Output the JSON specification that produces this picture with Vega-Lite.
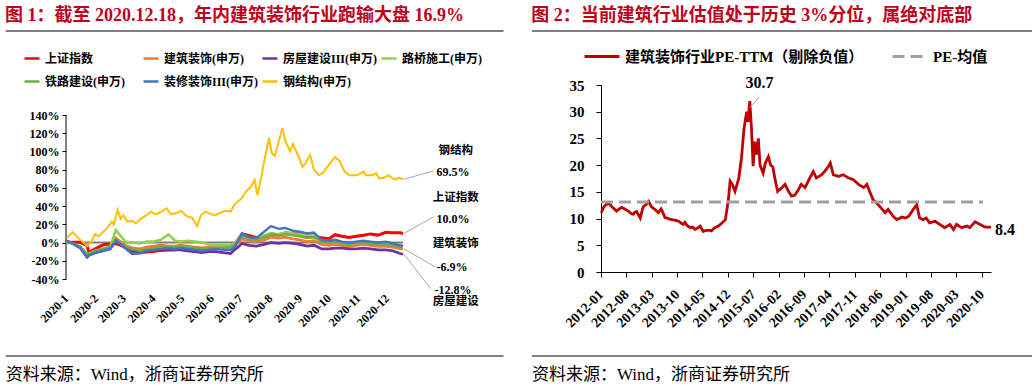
{
  "$schema": "https://vega.github.io/schema/vega-lite/v6.json",
  "padding": {"left": 5, "top": 7, "right": 0, "bottom": 0},
  "background": "white",
  "config": {
    "view": {"stroke": null},
    "font": "Liberation Serif, Noto Sans CJK SC",
    "axis": {"labelFont": "Liberation Serif, Noto Sans CJK SC", "labelFontWeight": "bold", "labelColor": "black", "domainColor": "black", "tickColor": "black", "grid": false},
    "legend": {"labelFont": "Liberation Serif, Noto Sans CJK SC", "labelFontWeight": "bold", "labelColor": "black"},
    "title": {"font": "Liberation Serif, Noto Sans CJK SC"},
    "text": {"font": "Liberation Serif, Noto Sans CJK SC"}
  },
  "resolve": {"scale": {"color": "independent", "strokeDash": "independent", "strokeWidth": "independent"}, "legend": {"color": "independent", "strokeDash": "independent", "strokeWidth": "independent"}},
  "datasets": {
    "cluster": [
      {"d":"2020-01-01","上证指数":0,"建筑装饰(申万)":1.5,"房屋建设III(申万)":2,"路桥施工(申万)":1,"铁路建设(申万)":1,"装修装饰III(申万)":2},
      {"d":"2020-01-08","上证指数":0.2,"建筑装饰(申万)":-1,"房屋建设III(申万)":-1,"路桥施工(申万)":-1,"铁路建设(申万)":-1,"装修装饰III(申万)":-1},
      {"d":"2020-01-16","上证指数":0.2,"建筑装饰(申万)":-5,"房屋建设III(申万)":-6,"路桥施工(申万)":-5,"铁路建设(申万)":-5,"装修装饰III(申万)":-6},
      {"d":"2020-01-23","上证指数":-3.5,"建筑装饰(申万)":-14,"房屋建设III(申万)":-16,"路桥施工(申万)":-13,"铁路建设(申万)":-13,"装修装饰III(申万)":-16},
      {"d":"2020-01-25","上证指数":-11,"建筑装饰(申万)":-12,"房屋建设III(申万)":-14,"路桥施工(申万)":-12,"铁路建设(申万)":-12,"装修装饰III(申万)":-14},
      {"d":"2020-02-01","上证指数":-6.5,"建筑装饰(申万)":-9,"房屋建设III(申万)":-11,"路桥施工(申万)":-9,"铁路建设(申万)":-9,"装修装饰III(申万)":-11},
      {"d":"2020-02-09","上证指数":-2.5,"建筑装饰(申万)":-7,"房屋建设III(申万)":-9,"路桥施工(申万)":-7,"铁路建设(申万)":-7,"装修装饰III(申万)":-9},
      {"d":"2020-02-16","上证指数":-1.7,"建筑装饰(申万)":-5,"房屋建设III(申万)":-7,"路桥施工(申万)":-5,"铁路建设(申万)":-5,"装修装饰III(申万)":-7},
      {"d":"2020-02-22","上证指数":-1,"建筑装饰(申万)":5,"房屋建设III(申万)":1.5,"路桥施工(申万)":13.5,"铁路建设(申万)":3,"装修装饰III(申万)":2},
      {"d":"2020-03-03","上证指数":-4.6,"建筑装饰(申万)":-3,"房屋建设III(申万)":-6,"路桥施工(申万)":1,"铁路建设(申万)":-4,"装修装饰III(申万)":-6},
      {"d":"2020-03-10","上证指数":-9.6,"建筑装饰(申万)":-6,"房屋建设III(申万)":-12,"路桥施工(申万)":0,"铁路建设(申万)":-7,"装修装饰III(申万)":-12},
      {"d":"2020-03-18","上证指数":-11,"建筑装饰(申万)":-7,"房屋建设III(申万)":-11,"路桥施工(申万)":-1,"铁路建设(申万)":-9,"装修装饰III(申万)":-12},
      {"d":"2020-03-25","上证指数":-10.5,"建筑装饰(申万)":-5,"房屋建设III(申万)":-9,"路桥施工(申万)":1,"铁路建设(申万)":-7,"装修装饰III(申万)":-9},
      {"d":"2020-04-02","上证指数":-9.6,"建筑装饰(申万)":-4,"房屋建设III(申万)":-8,"路桥施工(申万)":1,"铁路建设(申万)":-6,"装修装饰III(申万)":-8},
      {"d":"2020-04-09","上证指数":-8.6,"建筑装饰(申万)":-3,"房屋建设III(申万)":-7,"路桥施工(申万)":3,"铁路建设(申万)":-4,"装修装饰III(申万)":-7},
      {"d":"2020-04-17","上证指数":-8.3,"建筑装饰(申万)":-4,"房屋建设III(申万)":-8,"路桥施工(申万)":9,"铁路建设(申万)":-5,"装修装饰III(申万)":-6},
      {"d":"2020-04-24","上证指数":-8,"建筑装饰(申万)":-4,"房屋建设III(申万)":-8,"路桥施工(申万)":2,"铁路建设(申万)":-5,"装修装饰III(申万)":-7},
      {"d":"2020-04-29","上证指数":-6.8,"建筑装饰(申万)":-3,"房屋建设III(申万)":-8,"路桥施工(申万)":1,"铁路建设(申万)":-4,"装修装饰III(申万)":-6},
      {"d":"2020-05-07","上证指数":-7.6,"建筑装饰(申万)":-4,"房屋建设III(申万)":-9,"路桥施工(申万)":2,"铁路建设(申万)":-5,"装修装饰III(申万)":-7},
      {"d":"2020-05-14","上证指数":-7.5,"建筑装饰(申万)":-5,"房屋建设III(申万)":-10,"路桥施工(申万)":1,"铁路建设(申万)":-6,"装修装饰III(申万)":-8},
      {"d":"2020-05-22","上证指数":-8.5,"建筑装饰(申万)":-6,"房屋建设III(申万)":-11,"路桥施工(申万)":0,"铁路建设(申万)":-7,"装修装饰III(申万)":-9},
      {"d":"2020-05-29","上证指数":-5.7,"建筑装饰(申万)":-5,"房屋建设III(申万)":-10,"路桥施工(申万)":-2,"铁路建设(申万)":-6,"装修装饰III(申万)":-8},
      {"d":"2020-06-06","上证指数":-5.4,"建筑装饰(申万)":-5,"房屋建设III(申万)":-10,"路桥施工(申万)":-3,"铁路建设(申万)":-6,"装修装饰III(申万)":-7},
      {"d":"2020-06-13","上证指数":-4.6,"建筑装饰(申万)":-5,"房屋建设III(申万)":-11,"路桥施工(申万)":-3,"铁路建设(申万)":-6,"装修装饰III(申万)":-8},
      {"d":"2020-06-21","上证指数":-3.4,"建筑装饰(申万)":-5,"房屋建设III(申万)":-12,"路桥施工(申万)":-3,"铁路建设(申万)":-5,"装修装饰III(申万)":-8},
      {"d":"2020-06-25","上证指数":-1.9,"建筑装饰(申万)":-3,"房屋建设III(申万)":-8,"路桥施工(申万)":-1,"铁路建设(申万)":-3,"装修装饰III(申万)":-5},
      {"d":"2020-07-03","上证指数":9.4,"建筑装饰(申万)":4,"房屋建设III(申万)":-1,"路桥施工(申万)":8,"铁路建设(申万)":7,"装修装饰III(申万)":10},
      {"d":"2020-07-10","上证指数":7.8,"建筑装饰(申万)":2,"房屋建设III(申万)":-3,"路桥施工(申万)":5,"铁路建设(申万)":4,"装修装饰III(申万)":6},
      {"d":"2020-07-18","上证指数":5.4,"建筑装饰(申万)":1,"房屋建设III(申万)":-4,"路桥施工(申万)":4,"铁路建设(申万)":3,"装修装饰III(申万)":5},
      {"d":"2020-07-26","上证指数":6.3,"建筑装饰(申万)":3,"房屋建设III(申万)":-2,"路桥施工(申万)":8,"铁路建设(申万)":6,"装修装饰III(申万)":12},
      {"d":"2020-08-02","上证指数":9.6,"建筑装饰(申万)":6,"房屋建设III(申万)":0,"路桥施工(申万)":10,"铁路建设(申万)":9,"装修装饰III(申万)":18},
      {"d":"2020-08-10","上证指数":8.4,"建筑装饰(申万)":5,"房屋建设III(申万)":-1,"路桥施工(申万)":9,"铁路建设(申万)":8,"装修装饰III(申万)":15},
      {"d":"2020-08-17","上证指数":10.6,"建筑装饰(申万)":6,"房屋建设III(申万)":0,"路桥施工(申万)":11,"铁路建设(申万)":9,"装修装饰III(申万)":16},
      {"d":"2020-08-25","上证指数":9.7,"建筑装饰(申万)":4,"房屋建设III(申万)":-1,"路桥施工(申万)":10,"铁路建设(申万)":8,"装修装饰III(申万)":13},
      {"d":"2020-09-01","上证指数":9.6,"建筑装饰(申万)":3,"房屋建设III(申万)":-2,"路桥施工(申万)":9,"铁路建设(申万)":7,"装修装饰III(申万)":12},
      {"d":"2020-09-09","上证指数":5.5,"建筑装饰(申万)":1,"房屋建设III(申万)":-4,"路桥施工(申万)":8,"铁路建设(申万)":5,"装修装饰III(申万)":10},
      {"d":"2020-09-16","上证指数":6.7,"建筑装饰(申万)":2,"房屋建设III(申万)":-3,"路桥施工(申万)":8,"铁路建设(申万)":6,"装修装饰III(申万)":11},
      {"d":"2020-09-24","上证指数":5.4,"建筑装饰(申万)":-2,"房屋建设III(申万)":-7,"路桥施工(申万)":2,"铁路建设(申万)":1,"装修装饰III(申万)":3},
      {"d":"2020-10-02","上证指数":4.3,"建筑装饰(申万)":-3,"房屋建设III(申万)":-7,"路桥施工(申万)":1,"铁路建设(申万)":0,"装修装饰III(申万)":2},
      {"d":"2020-10-08","上证指数":8.6,"建筑装饰(申万)":-2,"房屋建设III(申万)":-6,"路桥施工(申万)":2,"铁路建设(申万)":1,"装修装饰III(申万)":3},
      {"d":"2020-10-15","上证指数":6.9,"建筑装饰(申万)":-3,"房屋建设III(申万)":-6,"路桥施工(申万)":0,"铁路建设(申万)":-1,"装修装饰III(申万)":1},
      {"d":"2020-10-23","上证指数":5.5,"建筑装饰(申万)":-4,"房屋建设III(申万)":-7,"路桥施工(申万)":-1,"铁路建设(申万)":-2,"装修装饰III(申万)":0},
      {"d":"2020-10-30","上证指数":7,"建筑装饰(申万)":-3,"房屋建设III(申万)":-7,"路桥施工(申万)":0,"铁路建设(申万)":-1,"装修装饰III(申万)":1},
      {"d":"2020-11-07","上证指数":8.1,"建筑装饰(申万)":-2,"房屋建设III(申万)":-6,"路桥施工(申万)":1,"铁路建设(申万)":0,"装修装饰III(申万)":2},
      {"d":"2020-11-14","上证指数":9.5,"建筑装饰(申万)":-3,"房屋建设III(申万)":-7,"路桥施工(申万)":0,"铁路建设(申万)":-1,"装修装饰III(申万)":1},
      {"d":"2020-11-22","上证指数":8.2,"建筑装饰(申万)":-4,"房屋建设III(申万)":-8,"路桥施工(申万)":-1,"铁路建设(申万)":-2,"装修装饰III(申万)":0},
      {"d":"2020-11-30","上证指数":11.3,"建筑装饰(申万)":-4,"房屋建设III(申万)":-8,"路桥施工(申万)":-1,"铁路建设(申万)":-2,"装修装饰III(申万)":1},
      {"d":"2020-12-07","上证指数":10.7,"建筑装饰(申万)":-5,"房屋建设III(申万)":-9,"路桥施工(申万)":-2,"铁路建设(申万)":-3,"装修装饰III(申万)":-1},
      {"d":"2020-12-15","上证指数":10.7,"建筑装饰(申万)":-6.5,"房屋建设III(申万)":-12,"路桥施工(申万)":-3.5,"铁路建设(申万)":-4.5,"装修装饰III(申万)":-3},
      {"d":"2020-12-18","上证指数":10,"建筑装饰(申万)":-6.9,"房屋建设III(申万)":-12.8,"路桥施工(申万)":-4,"铁路建设(申万)":-5,"装修装饰III(申万)":-3.5}
    ],
    "steel": [
      {"d":"2020-01-02","v":5},{"d":"2020-01-08","v":11.5},{"d":"2020-01-15","v":4},{"d":"2020-01-23","v":-4},
      {"d":"2020-01-27","v":0},{"d":"2020-01-31","v":9},{"d":"2020-02-04","v":7},{"d":"2020-02-10","v":13},
      {"d":"2020-02-14","v":17},{"d":"2020-02-18","v":23},{"d":"2020-02-20","v":20},{"d":"2020-02-24","v":36},
      {"d":"2020-02-27","v":26},{"d":"2020-03-01","v":30},{"d":"2020-03-05","v":23},{"d":"2020-03-10","v":24},
      {"d":"2020-03-14","v":21},{"d":"2020-03-19","v":26},{"d":"2020-03-25","v":30},{"d":"2020-03-30","v":34},
      {"d":"2020-04-03","v":31},{"d":"2020-04-08","v":33},{"d":"2020-04-15","v":37.5},{"d":"2020-04-20","v":31},
      {"d":"2020-04-27","v":33},{"d":"2020-04-30","v":35},{"d":"2020-05-06","v":29},{"d":"2020-05-12","v":27},
      {"d":"2020-05-17","v":18},{"d":"2020-05-21","v":30},{"d":"2020-05-26","v":34},{"d":"2020-06-01","v":31},
      {"d":"2020-06-05","v":30},{"d":"2020-06-11","v":33},{"d":"2020-06-15","v":35},{"d":"2020-06-21","v":34},
      {"d":"2020-06-25","v":42},{"d":"2020-07-02","v":48},{"d":"2020-07-07","v":56},{"d":"2020-07-12","v":61},
      {"d":"2020-07-16","v":69},{"d":"2020-07-19","v":52},{"d":"2020-07-23","v":72},{"d":"2020-07-26","v":89},
      {"d":"2020-07-31","v":115},{"d":"2020-08-03","v":98},{"d":"2020-08-06","v":95},{"d":"2020-08-10","v":110},
      {"d":"2020-08-14","v":125.6},{"d":"2020-08-17","v":112},{"d":"2020-08-22","v":100},{"d":"2020-08-25","v":108},
      {"d":"2020-09-01","v":92},{"d":"2020-09-04","v":83},{"d":"2020-09-07","v":87},{"d":"2020-09-12","v":96},
      {"d":"2020-09-16","v":80},{"d":"2020-09-21","v":74},{"d":"2020-09-25","v":76},{"d":"2020-09-30","v":83},
      {"d":"2020-10-08","v":94},{"d":"2020-10-13","v":89},{"d":"2020-10-18","v":78},{"d":"2020-10-23","v":74},
      {"d":"2020-10-31","v":74},{"d":"2020-11-07","v":78},{"d":"2020-11-09","v":74},{"d":"2020-11-16","v":74},
      {"d":"2020-11-20","v":76},{"d":"2020-11-23","v":70.5},{"d":"2020-11-28","v":71},{"d":"2020-12-03","v":74},
      {"d":"2020-12-09","v":69},{"d":"2020-12-14","v":71},{"d":"2020-12-18","v":69.5}
    ],
    "pe": [
      {"d":"2012-01-04","v":11.1,"s":"PE"},{"d":"2012-01-20","v":12.0,"s":"PE"},{"d":"2012-02-03","v":12.4,"s":"PE"},{"d":"2012-03-03","v":12.9,"s":"PE"},
      {"d":"2012-03-21","v":12.5,"s":"PE"},{"d":"2012-04-12","v":12.0,"s":"PE"},{"d":"2012-05-10","v":11.4,"s":"PE"},{"d":"2012-06-01","v":11.8,"s":"PE"},
      {"d":"2012-06-23","v":12.1,"s":"PE"},{"d":"2012-07-18","v":11.8,"s":"PE"},{"d":"2012-08-17","v":11.4,"s":"PE"},{"d":"2012-09-08","v":11.0,"s":"PE"},
      {"d":"2012-09-27","v":10.8,"s":"PE"},{"d":"2012-10-12","v":11.2,"s":"PE"},{"d":"2012-10-27","v":11.3,"s":"PE"},{"d":"2012-11-25","v":10.1,"s":"PE"},
      {"d":"2012-12-20","v":12.2,"s":"PE"},{"d":"2013-01-12","v":12.6,"s":"PE"},{"d":"2013-02-03","v":13.2,"s":"PE"},{"d":"2013-02-28","v":12.2,"s":"PE"},
      {"d":"2013-03-29","v":11.7,"s":"PE"},{"d":"2013-04-27","v":11.1,"s":"PE"},{"d":"2013-05-19","v":11.8,"s":"PE"},{"d":"2013-06-06","v":11.0,"s":"PE"},
      {"d":"2013-06-21","v":10.2,"s":"PE"},{"d":"2013-07-20","v":10.0,"s":"PE"},{"d":"2013-08-15","v":9.8,"s":"PE"},{"d":"2013-09-13","v":9.7,"s":"PE"},
      {"d":"2013-10-12","v":9.5,"s":"PE"},{"d":"2013-11-21","v":8.9,"s":"PE"},{"d":"2013-12-05","v":9.3,"s":"PE"},{"d":"2013-12-24","v":8.7,"s":"PE"},
      {"d":"2014-01-19","v":8.3,"s":"PE"},{"d":"2014-02-07","v":8.4,"s":"PE"},{"d":"2014-03-01","v":8.0,"s":"PE"},{"d":"2014-03-21","v":8.2,"s":"PE"},
      {"d":"2014-04-12","v":8.6,"s":"PE"},{"d":"2014-05-07","v":7.6,"s":"PE"},{"d":"2014-06-05","v":7.8,"s":"PE"},{"d":"2014-07-01","v":7.8,"s":"PE"},
      {"d":"2014-07-15","v":7.7,"s":"PE"},{"d":"2014-08-14","v":8.3,"s":"PE"},{"d":"2014-09-12","v":8.6,"s":"PE"},{"d":"2014-10-04","v":9.0,"s":"PE"},
      {"d":"2014-10-23","v":9.4,"s":"PE"},{"d":"2014-11-10","v":9.8,"s":"PE"},{"d":"2014-11-21","v":11.4,"s":"PE"},{"d":"2014-12-05","v":13.5,"s":"PE"},
      {"d":"2014-12-20","v":17.0,"s":"PE"},{"d":"2015-01-08","v":16.4,"s":"PE"},{"d":"2015-01-30","v":15.1,"s":"PE"},{"d":"2015-02-17","v":16.5,"s":"PE"},
      {"d":"2015-03-03","v":17.6,"s":"PE"},{"d":"2015-03-25","v":21.3,"s":"PE"},{"d":"2015-04-16","v":26.9,"s":"PE"},{"d":"2015-05-08","v":30.0,"s":"PE"},
      {"d":"2015-05-19","v":28.1,"s":"PE"},{"d":"2015-06-03","v":32.0,"s":"PE"},{"d":"2015-06-17","v":26.9,"s":"PE"},{"d":"2015-07-01","v":19.8,"s":"PE"},
      {"d":"2015-07-15","v":24.4,"s":"PE"},{"d":"2015-07-30","v":22.0,"s":"PE"},{"d":"2015-08-14","v":25.0,"s":"PE"},{"d":"2015-08-28","v":20.0,"s":"PE"},
      {"d":"2015-09-23","v":18.5,"s":"PE"},{"d":"2015-10-12","v":20.4,"s":"PE"},{"d":"2015-11-06","v":21.6,"s":"PE"},{"d":"2015-11-25","v":20.0,"s":"PE"},
      {"d":"2015-12-13","v":19.7,"s":"PE"},{"d":"2016-01-04","v":17.0,"s":"PE"},{"d":"2016-01-23","v":15.1,"s":"PE"},{"d":"2016-02-28","v":15.8,"s":"PE"},
      {"d":"2016-03-25","v":16.4,"s":"PE"},{"d":"2016-04-23","v":15.1,"s":"PE"},{"d":"2016-05-19","v":14.2,"s":"PE"},{"d":"2016-06-16","v":14.4,"s":"PE"},
      {"d":"2016-07-15","v":15.4,"s":"PE"},{"d":"2016-08-07","v":16.4,"s":"PE"},{"d":"2016-09-09","v":15.8,"s":"PE"},{"d":"2016-10-19","v":17.6,"s":"PE"},
      {"d":"2016-11-17","v":18.8,"s":"PE"},{"d":"2016-12-13","v":17.6,"s":"PE"},{"d":"2017-01-26","v":18.2,"s":"PE"},{"d":"2017-02-20","v":18.8,"s":"PE"},
      {"d":"2017-03-25","v":19.8,"s":"PE"},{"d":"2017-04-09","v":20.4,"s":"PE"},{"d":"2017-05-04","v":18.2,"s":"PE"},{"d":"2017-06-17","v":17.9,"s":"PE"},
      {"d":"2017-07-27","v":18.2,"s":"PE"},{"d":"2017-09-09","v":17.6,"s":"PE"},{"d":"2017-10-19","v":17.3,"s":"PE"},{"d":"2017-12-02","v":16.4,"s":"PE"},
      {"d":"2018-01-15","v":15.8,"s":"PE"},{"d":"2018-02-10","v":16.4,"s":"PE"},{"d":"2018-03-10","v":14.8,"s":"PE"},{"d":"2018-04-04","v":13.5,"s":"PE"},
      {"d":"2018-05-03","v":12.9,"s":"PE"},{"d":"2018-05-28","v":12.3,"s":"PE"},{"d":"2018-07-12","v":11.1,"s":"PE"},{"d":"2018-08-07","v":11.7,"s":"PE"},
      {"d":"2018-09-20","v":10.4,"s":"PE"},{"d":"2018-10-19","v":9.8,"s":"PE"},{"d":"2018-12-02","v":10.3,"s":"PE"},{"d":"2018-12-28","v":10.1,"s":"PE"},
      {"d":"2019-01-26","v":10.4,"s":"PE"},{"d":"2019-02-25","v":11.4,"s":"PE"},{"d":"2019-04-04","v":12.6,"s":"PE"},{"d":"2019-04-29","v":10.1,"s":"PE"},
      {"d":"2019-05-28","v":9.8,"s":"PE"},{"d":"2019-06-23","v":10.1,"s":"PE"},{"d":"2019-07-22","v":9.2,"s":"PE"},{"d":"2019-09-05","v":9.5,"s":"PE"},
      {"d":"2019-10-15","v":8.9,"s":"PE"},{"d":"2019-11-25","v":8.3,"s":"PE"},{"d":"2020-01-08","v":8.9,"s":"PE"},{"d":"2020-02-07","v":7.95,"s":"PE"},
      {"d":"2020-03-03","v":8.9,"s":"PE"},{"d":"2020-04-16","v":8.3,"s":"PE"},{"d":"2020-05-29","v":8.6,"s":"PE"},{"d":"2020-06-23","v":8.3,"s":"PE"},
      {"d":"2020-08-07","v":9.4,"s":"PE"},{"d":"2020-09-16","v":8.9,"s":"PE"},{"d":"2020-10-30","v":8.4,"s":"PE"},{"d":"2020-12-18","v":8.4,"s":"PE"},
      {"d":"2012-01-01","v":13.1,"s":"mean"},{"d":"2020-10-12","v":13.1,"s":"mean"}
    ]
  },
  "spacing": 26,
  "hconcat": [
    {
      "width": 337, "height": 194,
      "title": {"text": "图 1：截至 2020.12.18，年内建筑装饰行业跑输大盘 16.9%", "anchor": "start", "fontSize": 18, "fontWeight": "bold", "color": "#C0001A", "offset": 5},
      "encoding": {
        "x": {"field": "d", "type": "temporal",
          "scale": {"type": "utc", "domain": [{"year": 2020, "month": 1, "date": 1, "utc": true}, {"year": 2020, "month": 12, "date": 18, "utc": true}]},
          "axis": {"title": null, "orient": "bottom", "domain": false, "ticks": false, "labelAngle": -45, "labelAlign": "right", "labelBaseline": "middle", "labelPadding": 17, "labelFontSize": 12, "format": "%Y-%-m", "labelOverlap": false, "labelFlush": false, "labelBound": false,
            "values": [
              {"year": 2020, "month": 1, "date": 1, "utc": true}, {"year": 2020, "month": 2, "date": 1, "utc": true}, {"year": 2020, "month": 3, "date": 1, "utc": true},
              {"year": 2020, "month": 4, "date": 1, "utc": true}, {"year": 2020, "month": 5, "date": 1, "utc": true}, {"year": 2020, "month": 6, "date": 1, "utc": true},
              {"year": 2020, "month": 7, "date": 1, "utc": true}, {"year": 2020, "month": 8, "date": 1, "utc": true}, {"year": 2020, "month": 9, "date": 1, "utc": true},
              {"year": 2020, "month": 10, "date": 1, "utc": true}, {"year": 2020, "month": 11, "date": 1, "utc": true}, {"year": 2020, "month": 12, "date": 1, "utc": true}
            ]}},
        "y": {"field": "v", "type": "quantitative", "scale": {"domain": [-40, 172.93]},
          "axis": {"title": null, "domain": false, "values": [-40, -20, 0, 20, 40, 60, 80, 100, 120, 140], "labelExpr": "datum.value + '%'", "labelFontSize": 12, "tickSize": 4, "labelPadding": 3}}
      },
      "layer": [
        {
          "data": {"values": [{"d": "2019-10-30", "v": 232.2, "d2": "2021-04-02", "v2": 232.2}, {"d": "2019-10-30", "v": -124.5, "d2": "2021-04-02", "v2": -124.5}]},
          "mark": {"type": "rule", "color": "black", "strokeWidth": 1.2},
          "encoding": {"x2": {"field": "d2"}, "y2": {"field": "v2"}}
        },
        {
          "data": {"values": [{"d": "2020-01-01", "v": -40, "d2": "2020-01-01", "v2": 140}]},
          "mark": {"type": "rule", "color": "black", "strokeWidth": 1},
          "encoding": {"x2": {"field": "d2"}, "y2": {"field": "v2"}}
        },
        {
          "data": {"values": [{"d": "2019-10-30", "v": -145.4, "t": "资料来源：Wind，浙商证券研究所"}]},
          "mark": {"type": "text", "align": "left", "baseline": "middle", "fontSize": 17, "fontWeight": "normal", "color": "black"},
          "encoding": {"text": {"field": "t"}}
        },
        {
          "data": {"values": [{"d": "2020-01-01", "v": 0}, {"d": "2020-12-18", "v": 0}]},
          "mark": {"type": "line", "color": "#7F7F7F", "strokeWidth": 2}
        },
        {
          "data": {"name": "cluster"},
          "transform": [{"fold": ["上证指数", "建筑装饰(申万)", "房屋建设III(申万)", "路桥施工(申万)", "铁路建设(申万)", "装修装饰III(申万)"], "as": ["s", "v"]}],
          "mark": {"type": "line"},
          "encoding": {
            "color": {"field": "s", "type": "nominal",
              "scale": {"domain": ["上证指数", "建筑装饰(申万)", "房屋建设III(申万)", "路桥施工(申万)", "铁路建设(申万)", "装修装饰III(申万)", "钢结构(申万)"],
                "range": ["#FF0000", "#ED7D31", "#7030A0", "#92D050", "#70AD47", "#4472C4", "#FFC000"]},
              "legend": {"title": null, "orient": "none", "legendX": -43, "legendY": -35.5, "direction": "horizontal", "columns": 4, "gridAlign": "all", "columnPadding": -2, "rowPadding": 8, "symbolType": "stroke", "symbolSize": 225, "symbolStrokeWidth": 2.5, "labelFontSize": 12, "labelLimit": 200, "padding": 0}},
            "strokeWidth": {"field": "s", "type": "nominal",
              "scale": {"domain": ["上证指数", "建筑装饰(申万)", "房屋建设III(申万)", "路桥施工(申万)", "铁路建设(申万)", "装修装饰III(申万)"], "range": [3, 2.4, 2.2, 1.8, 1.6, 1.5]},
              "legend": null}
          }
        },
        {
          "data": {"name": "steel"},
          "mark": {"type": "line", "strokeWidth": 2},
          "encoding": {"color": {"datum": "钢结构(申万)"}}
        },
        {
          "data": {"values": [
            {"d": "2020-12-19", "v": 69.5, "d2": "2021-01-19", "v2": 78.6},
            {"d": "2020-12-19", "v": 10, "d2": "2021-01-19", "v2": 28.3},
            {"d": "2020-12-19", "v": -6.9, "d2": "2021-01-21", "v2": -26.8},
            {"d": "2020-12-19", "v": -12.8, "d2": "2021-01-16", "v2": -50.7}
          ]},
          "mark": {"type": "rule", "color": "#A6A6A6", "strokeWidth": 1},
          "encoding": {"x2": {"field": "d2"}, "y2": {"field": "v2"}}
        },
        {
          "data": {"values": [
            {"d": "2021-02-11", "v": 100, "t": "钢结构"},
            {"d": "2021-02-11", "v": 48.5, "t": "上证指数"},
            {"d": "2021-02-11", "v": -1.1, "t": "建筑装饰"},
            {"d": "2021-02-11", "v": -64.7, "t": "房屋建设"}
          ]},
          "mark": {"type": "text", "align": "center", "baseline": "middle", "fontSize": 11.5, "fontWeight": "bold", "color": "black"},
          "encoding": {"text": {"field": "t"}}
        },
        {
          "data": {"values": [
            {"d": "2021-01-22", "v": 77.1, "t": "69.5%"},
            {"d": "2021-01-22", "v": 26.4, "t": "10.0%"},
            {"d": "2021-01-22", "v": -26.8, "t": "-6.9%"},
            {"d": "2021-01-20", "v": -52.5, "t": "-12.8%"}
          ]},
          "mark": {"type": "text", "align": "left", "baseline": "middle", "fontSize": 12, "fontWeight": "bold", "color": "black"},
          "encoding": {"text": {"field": "t"}}
        }
      ]
    },
    {
      "width": 390, "height": 187,
      "title": {"text": "图 2：当前建筑行业估值处于历史 3%分位，属绝对底部", "anchor": "start", "fontSize": 18, "fontWeight": "bold", "color": "#C0001A", "offset": 5},
      "encoding": {
        "x": {"field": "d", "type": "temporal",
          "scale": {"type": "utc", "domain": [{"year": 2012, "month": 1, "date": 1, "utc": true}, {"year": 2020, "month": 12, "date": 18, "utc": true}]},
          "axis": {"title": null, "tickSize": 5, "labelAngle": -45, "labelAlign": "right", "labelBaseline": "middle", "labelPadding": 15, "labelFontSize": 14, "format": "%Y-%m", "labelOverlap": false, "labelFlush": false, "labelBound": false,
            "values": [
              {"year": 2012, "month": 1, "date": 1, "utc": true}, {"year": 2012, "month": 8, "date": 1, "utc": true}, {"year": 2013, "month": 3, "date": 1, "utc": true},
              {"year": 2013, "month": 10, "date": 1, "utc": true}, {"year": 2014, "month": 5, "date": 1, "utc": true}, {"year": 2014, "month": 12, "date": 1, "utc": true},
              {"year": 2015, "month": 7, "date": 1, "utc": true}, {"year": 2016, "month": 2, "date": 1, "utc": true}, {"year": 2016, "month": 9, "date": 1, "utc": true},
              {"year": 2017, "month": 4, "date": 1, "utc": true}, {"year": 2017, "month": 11, "date": 1, "utc": true}, {"year": 2018, "month": 6, "date": 1, "utc": true},
              {"year": 2019, "month": 1, "date": 1, "utc": true}, {"year": 2019, "month": 8, "date": 1, "utc": true}, {"year": 2020, "month": 3, "date": 1, "utc": true},
              {"year": 2020, "month": 10, "date": 1, "utc": true}
            ]}},
        "y": {"field": "v", "type": "quantitative", "scale": {"domain": [0, 35]},
          "axis": {"title": null, "values": [0, 5, 10, 15, 20, 25, 30, 35], "labelFontSize": 15, "tickSize": 5, "labelPadding": 12}}
      },
      "layer": [
        {
          "data": {"values": [{"d": "2010-05-31", "v": 45.11, "d2": "2021-11-27", "v2": 45.11}, {"d": "2010-05-31", "v": -15.72, "d2": "2021-11-27", "v2": -15.72}]},
          "mark": {"type": "rule", "color": "black", "strokeWidth": 1.2},
          "encoding": {"x2": {"field": "d2"}, "y2": {"field": "v2"}}
        },
        {
          "data": {"values": [{"d": "2010-05-31", "v": -19.27, "t": "资料来源：Wind，浙商证券研究所"}]},
          "mark": {"type": "text", "align": "left", "baseline": "middle", "fontSize": 17, "fontWeight": "normal", "color": "black"},
          "encoding": {"text": {"field": "t"}}
        },
        {
          "data": {"name": "pe"},
          "mark": {"type": "line", "strokeWidth": 2.8},
          "encoding": {
            "color": {"field": "s", "type": "nominal", "scale": {"domain": ["PE", "mean"], "range": ["#C00000", "#A0A0A0"]},
              "legend": {"title": null, "orient": "none", "legendX": -18, "legendY": -47.5, "direction": "horizontal", "symbolType": "stroke", "symbolSize": 1225, "symbolStrokeWidth": 3, "labelFontSize": 15, "columnPadding": 22, "labelLimit": 400, "padding": 0,
                "labelExpr": "datum.label == 'PE' ? '建筑装饰行业PE-TTM（剔除负值）' : 'PE-均值'"}},
            "strokeDash": {"field": "s", "type": "nominal", "scale": {"domain": ["PE", "mean"], "range": [[1, 0], [12, 6]]},
              "legend": {"title": null, "orient": "none", "legendX": -18, "legendY": -47.5, "direction": "horizontal", "symbolType": "stroke", "symbolSize": 1225, "symbolStrokeWidth": 3, "labelFontSize": 15, "columnPadding": 22, "labelLimit": 400, "padding": 0,
                "labelExpr": "datum.label == 'PE' ? '建筑装饰行业PE-TTM（剔除负值）' : 'PE-均值'"}}
          }
        },
        {
          "data": {"values": [{"d": "2015-08-18", "v": 32.7, "d2": "2015-06-04", "v2": 30.8}]},
          "mark": {"type": "rule", "color": "#A6A6A6", "strokeWidth": 1},
          "encoding": {"x2": {"field": "d2"}, "y2": {"field": "v2"}}
        },
        {
          "data": {"values": [{"d": "2015-08-23", "v": 35.3, "t": "30.7"}]},
          "mark": {"type": "text", "align": "center", "baseline": "middle", "fontSize": 16, "fontWeight": "bold", "color": "black"},
          "encoding": {"text": {"field": "t"}}
        },
        {
          "data": {"values": [{"d": "2021-01-21", "v": 7.95, "t": "8.4"}]},
          "mark": {"type": "text", "align": "left", "baseline": "middle", "fontSize": 16, "fontWeight": "bold", "color": "black"},
          "encoding": {"text": {"field": "t"}}
        }
      ]
    }
  ]
}
